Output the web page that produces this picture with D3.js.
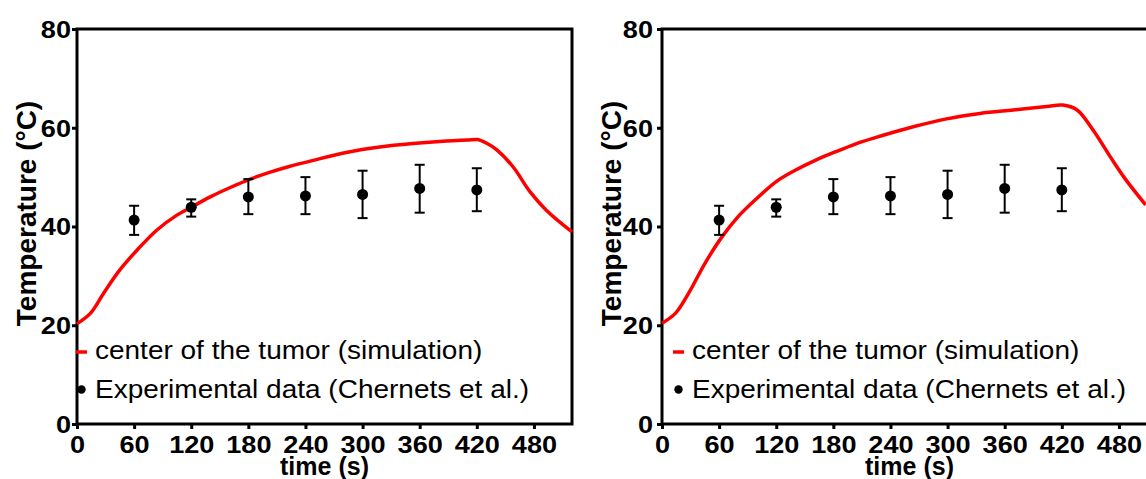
<!DOCTYPE html>
<html>
<head>
<meta charset="utf-8">
<script src="https://cdn.jsdelivr.net/npm/d3@7"></script>
<style>
  html, body { margin: 0; padding: 0; background: #fff; }
  svg { display: block; font-family: "Liberation Sans", Arial, sans-serif; }
</style>
</head>
<body>
<svg id="chart" width="1146" height="479"></svg>
<script>
// ---- data ----
const timeTicks = [0, 60, 120, 180, 240, 300, 360, 420, 480];
const tempTicks = [0, 20, 40, 60, 80];

// experimental data (Chernets et al.)
const expTime  = [60, 120, 180, 240, 300, 360, 420];
const expMean  = [41.3, 43.9, 46.0, 46.2, 46.5, 47.7, 47.4];
const expUpper = [44.2, 45.5, 49.6, 50.0, 51.3, 52.5, 51.8];
const expLower = [38.3, 42.0, 42.5, 42.5, 41.7, 42.8, 43.1];

// simulation, left panel
const simTimeA = [0, 14, 28, 45, 63, 84, 105, 120, 140, 161, 182, 203, 222, 248, 283, 318, 353, 388, 410, 421, 430, 441, 458, 476, 493, 520];
const simTempA = [20.3, 22.4, 26.5, 31.2, 35.2, 39.3, 42.3, 43.9, 46.0, 47.9, 49.6, 51.0, 52.1, 53.4, 55.0, 56.1, 56.8, 57.3, 57.5, 57.6, 56.9, 55.5, 52.1, 47.0, 43.3, 38.9];

// simulation, right panel
const simTimeB = [0, 14, 28, 45, 63, 80, 98, 120, 140, 161, 182, 203, 224, 245, 264, 299, 334, 369, 404, 421, 436, 453, 471, 486, 508];
const simTempB = [20.4, 22.4, 26.5, 32.5, 37.9, 42.0, 45.4, 49.1, 51.4, 53.4, 55.1, 56.7, 58.0, 59.2, 60.2, 61.8, 62.9, 63.6, 64.3, 64.6, 63.6, 59.5, 54.1, 49.8, 44.4];

const legendLabels = ["center of the tumor (simulation)", "Experimental data (Chernets et al.)"];
const xTitle = "time (s)";
const yTitle = "Temperature (\u00B0C)";

// ---- layout ----
const svg = d3.select("#chart");
const plotTop = 29, plotBottom = 424, plotW = 495;
const panels = [
  { x0: 77,  simT: simTimeA, simV: simTempA, yLabGap: 6,  legDash: 76,  legText: 95 },
  { x0: 662, simT: simTimeB, simV: simTempB, yLabGap: 9,  legDash: 673, legText: 692 }
];

const y = d3.scaleLinear().domain([0, 80]).range([plotBottom, plotTop]);

panels.forEach(p => {
  const x = d3.scaleLinear().domain([0, 520]).range([p.x0, p.x0 + plotW]);
  const g = svg.append("g");

  // x axis
  const xa = g.append("g").attr("transform", `translate(0,${plotBottom})`)
    .call(d3.axisBottom(x).tickValues(timeTicks).tickSize(5).tickSizeOuter(0));
  xa.select(".domain").remove();
  xa.selectAll("line").attr("stroke", "#000").attr("stroke-width", 3);
  xa.selectAll("text")
    .attr("y", 29).attr("dy", 0)
    .attr("transform", "scale(1.13,1)")
    .attr("fill", "#000")
    .style("font-size", "24px").style("font-weight", "bold")
    .style("font-family", "'Liberation Sans', Arial, sans-serif");

  // y axis
  const ya = g.append("g").attr("transform", `translate(${p.x0},0)`)
    .call(d3.axisLeft(y).tickValues(tempTicks).tickSize(5).tickSizeOuter(0));
  ya.select(".domain").remove();
  ya.selectAll("line").attr("stroke", "#000").attr("stroke-width", 3);
  ya.selectAll("text")
    .attr("x", -p.yLabGap / 1.13).attr("dy", "0.35em")
    .attr("transform", "scale(1.13,1)")
    .attr("fill", "#000")
    .style("font-size", "24px").style("font-weight", "bold")
    .style("font-family", "'Liberation Sans', Arial, sans-serif");

  // frame
  g.append("rect")
    .attr("x", x(0)).attr("y", y(80))
    .attr("width", x(520) - x(0)).attr("height", y(0) - y(80))
    .attr("fill", "none").attr("stroke", "#000").attr("stroke-width", 3);

  // simulation curve
  const simData = p.simT.map((t, i) => [t, p.simV[i]]);
  g.append("path")
    .datum(simData)
    .attr("fill", "none").attr("stroke", "#ff0000").attr("stroke-width", 3.5)
    .attr("stroke-linejoin", "round")
    .attr("d", d3.line().x(d => x(d[0])).y(d => y(d[1])).curve(d3.curveCatmullRom.alpha(0.5)));

  // experimental error bars & points
  const exp = expTime.map((t, i) => ({ t, m: expMean[i], hi: expUpper[i], lo: expLower[i] }));
  const eg = g.append("g").selectAll("g").data(exp).join("g");
  eg.append("line")
    .attr("x1", d => x(d.t)).attr("x2", d => x(d.t))
    .attr("y1", d => y(d.hi)).attr("y2", d => y(d.lo))
    .attr("stroke", "#000").attr("stroke-width", 2);
  eg.append("line")
    .attr("x1", d => x(d.t) - 5).attr("x2", d => x(d.t) + 5)
    .attr("y1", d => y(d.hi)).attr("y2", d => y(d.hi))
    .attr("stroke", "#000").attr("stroke-width", 2);
  eg.append("line")
    .attr("x1", d => x(d.t) - 5).attr("x2", d => x(d.t) + 5)
    .attr("y1", d => y(d.lo)).attr("y2", d => y(d.lo))
    .attr("stroke", "#000").attr("stroke-width", 2);
  eg.append("circle")
    .attr("cx", d => x(d.t)).attr("cy", d => y(d.m)).attr("r", 5.5)
    .attr("fill", "#000");

  // legend
  const lg = g.append("g");
  lg.append("line")
    .attr("x1", p.legDash).attr("x2", p.legDash + 11)
    .attr("y1", 352).attr("y2", 352)
    .attr("stroke", "#ff0000").attr("stroke-width", 3.5);
  lg.append("circle")
    .attr("cx", p.legDash + 5.5).attr("cy", 389.5).attr("r", 4.2).attr("fill", "#000");
  lg.selectAll("text").data(legendLabels).join("text")
    .attr("x", p.legText / 1.12)
    .attr("y", (d, i) => i === 0 ? 359 : 398)
    .attr("transform", "scale(1.12,1)")
    .attr("fill", "#000")
    .style("font-size", "25px")
    .text(d => d);

  // axis titles
  g.append("text")
    .attr("x", (x(0) + x(520)) / 2).attr("y", 475)
    .attr("text-anchor", "middle")
    .style("font-size", "25px").style("font-weight", "bold")
    .text(xTitle);
  g.append("text")
    .attr("transform", `translate(${p.x0 - 41},213.5) rotate(-90)`)
    .attr("text-anchor", "middle")
    .style("font-size", "28px").style("font-weight", "bold")
    .text(yTitle);
});
</script>
</body>
</html>
